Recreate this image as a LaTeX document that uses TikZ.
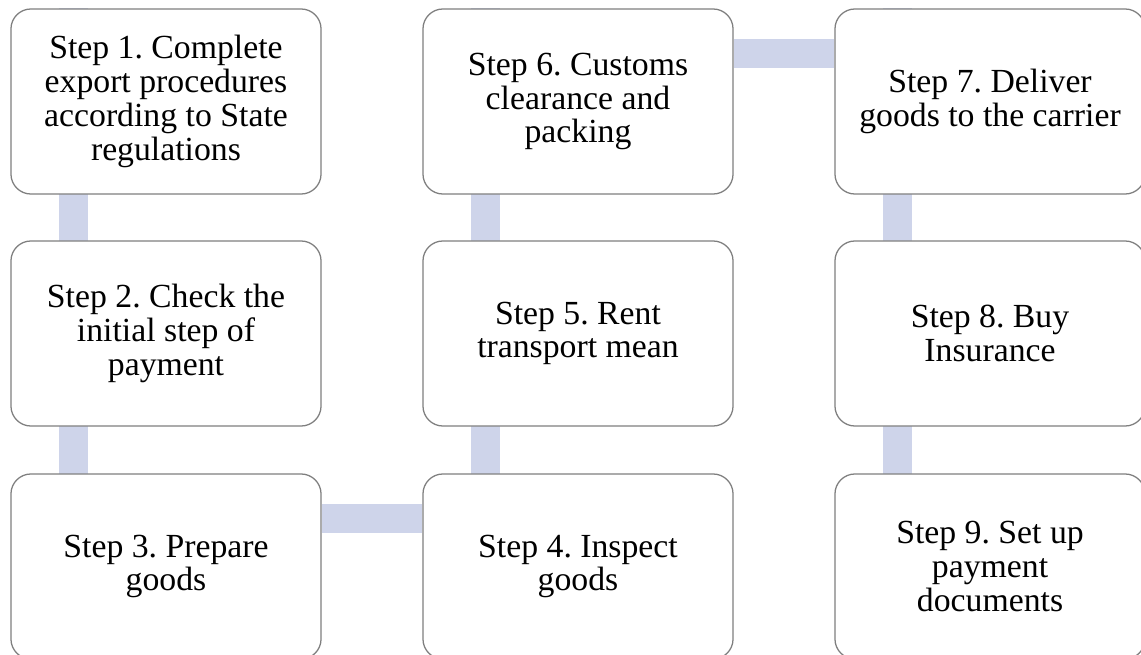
\documentclass[tikz,border=0pt]{standalone}
\usepackage{fontspec}
\setmainfont{Liberation Serif}
\usetikzlibrary{positioning,calc,backgrounds}
\definecolor{boxGray}{HTML}{7F7F7F}
\definecolor{linkBlue}{HTML}{CED4EA}
\frenchspacing
\tikzset{
  stepbox/.style={draw=boxGray, line width=0.9pt, fill=white, rounded corners=0.5cm,
    minimum width=7.75cm, minimum height=4.625cm, align=center, inner sep=0pt,
    font=\fontsize{24}{24}\selectfont},
  link/.style={linkBlue, line width=0.72cm}
}
\begin{document}
\begin{tikzpicture}[x=0.025cm, y=-0.025cm]
\useasboundingbox (0,0) rectangle (1141,655);
\clip (0,0) rectangle (1141,655);
% first column, top to bottom
\node[stepbox] (s1) at (166,101.5) {Step 1. Complete\\export procedures\\according to State\\regulations};
\node[stepbox] (s2) at (166,333.5) {Step 2. Check the\\initial step of\\payment};
\node[stepbox] (s3) at (166,566.5) {Step 3. Prepare\\goods};
% second column, bottom to top
\node[stepbox] (s4) at (578,566.5) {Step 4. Inspect\\goods};
\node[stepbox] (s5) at (578,333.5) {Step 5. Rent\\transport mean};
\node[stepbox] (s6) at (578,101.5) {Step 6. Customs\\clearance and\\packing};
% third column, top to bottom
\node[stepbox] (s7) at (990,101.5) {Step 7. Deliver\\goods to the carrier};
\node[stepbox] (s8) at (990,333.5) {Step 8. Buy\\Insurance};
\node[stepbox] (s9) at (990,566.5) {Step 9. Set up\\payment\\documents};
\begin{scope}[on background layer]
\foreach \a/\b in {s1/s2,s2/s3,s4/s5,s5/s6,s7/s8,s8/s9}{
  \draw[link] ($(\a.south west)+(63,0)$) -- ($(\b.north west)+(63,0)$);
  \draw[link] ($(\b.south west)+(63,0)$) -- ($(\a.north west)+(63,0)$);
}
\draw[link] ($(s3.north east)+(0,45.5)$) -- ($(s4.north west)+(0,45.5)$);
\draw[link] ($(s6.north east)+(0,45.5)$) -- ($(s7.north west)+(0,45.5)$);
\end{scope}
\end{tikzpicture}
\end{document}
